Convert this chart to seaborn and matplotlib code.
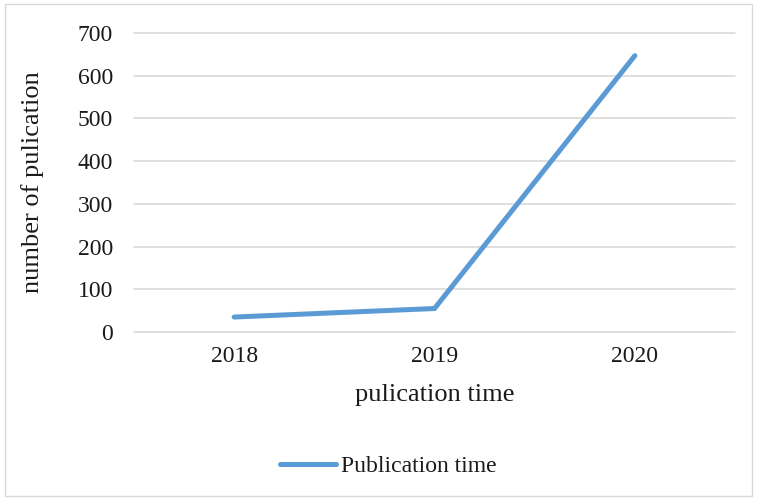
import numpy as np
import pandas as pd
import matplotlib
matplotlib.use("Agg")
import matplotlib.pyplot as plt
import seaborn as sns
from matplotlib.patches import Rectangle

# ── Data ───────────────────────────────────────────────
years = ["2018", "2019", "2020"]
publications = [35, 55, 647]
series_name = "Publication time"

LINE_COLOR = "#5B9BD5"
GRID_COLOR = "#D9D9D9"
TEXT_COLOR = "#1a1a1a"

sns.set_theme(style="white")
plt.rcParams["font.family"] = ["Liberation Serif", "DejaVu Serif"]

df = pd.DataFrame({"year": years, "count": publications, "series": series_name})

fig = plt.figure(figsize=(7.57, 5.0), dpi=100)
ax = fig.add_axes([0.177, 0.336, 0.794, 0.598])

sns.lineplot(data=df, x="year", y="count", hue="series", palette=[LINE_COLOR],
             sort=False, linewidth=3.6, ax=ax, legend=False)
ax.lines[0].set_solid_capstyle("round")
ax.lines[0].set_solid_joinstyle("miter")

ax.set_xlim(-0.5, 2.5)
ax.set_ylim(0, 700)
ax.set_yticks(np.arange(0, 701, 100))
ax.grid(axis="y", color=GRID_COLOR, linewidth=1.2)
ax.set_axisbelow(True)
for gl in ax.yaxis.get_gridlines():
    gl.set_clip_on(False)
for s in ax.spines.values():
    s.set_visible(False)
ax.tick_params(axis="y", length=0, pad=15, labelsize=17, labelcolor=TEXT_COLOR)
ax.tick_params(axis="x", length=0, pad=10, labelsize=17, labelcolor=TEXT_COLOR)

ax.set_xlabel("pulication time", fontsize=19, color=TEXT_COLOR)
ax.set_ylabel("number of pulication", fontsize=19, color=TEXT_COLOR)
ax.xaxis.set_label_coords(0.5, -0.175)
ax.yaxis.set_label_coords(-0.15, 0.5)

# legend
handle = plt.Line2D([], [], color=LINE_COLOR, linewidth=3.6, solid_capstyle="round")
fig.legend([handle], [series_name], loc="center", bbox_to_anchor=(0.513, 0.068),
           frameon=False, fontsize=17, handlelength=2.35, handletextpad=0.2,
           labelcolor=TEXT_COLOR)

# chart border
fig.patches.append(Rectangle((0.007, 0.008), 0.986, 0.985, transform=fig.transFigure,
                             fill=False, edgecolor="#D9D9D9", linewidth=1.0))

fig.savefig("out.png", dpi=100, facecolor="white")
